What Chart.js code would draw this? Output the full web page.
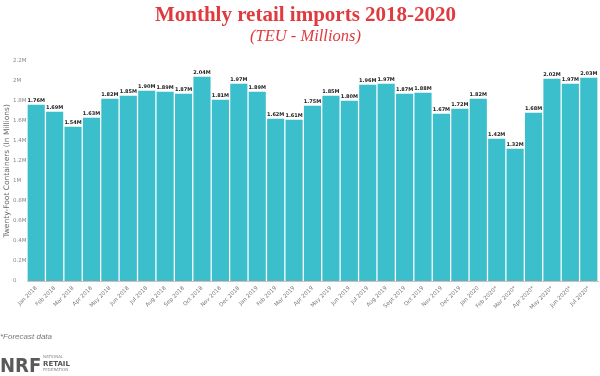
<!DOCTYPE html>
<html>
<head>
<meta charset="utf-8">
<script src="https://cdn.jsdelivr.net/npm/chart.js@4/dist/chart.umd.min.js"></script>
<style>
    html, body { margin: 0; padding: 0; background: #fff; }
    #wrap { position: relative; width: 600px; height: 376px; }
</style>
</head>
<body>
<div id="wrap"><canvas id="chart" width="600" height="376"></canvas></div>
<script>
const months = [
    "Jan 2018", "Feb 2018", "Mar 2018", "Apr 2018", "May 2018", "Jun 2018",
    "Jul 2018", "Aug 2018", "Sep 2018", "Oct 2018", "Nov 2018", "Dec 2018",
    "Jan 2019", "Feb 2019", "Mar 2019", "Apr 2019", "May 2019", "Jun 2019",
    "Jul 2019", "Aug 2019", "Sept 2019", "Oct 2019", "Nov 2019", "Dec 2019",
    "Jan 2020", "Feb 2020*", "Mar 2020*", "Apr 2020*", "May 2020*", "Jun 2020*",
    "Jul 2020*"
];
const imports = [
    1.76, 1.69, 1.54, 1.63, 1.82, 1.85,
    1.90, 1.89, 1.87, 2.04, 1.81, 1.97,
    1.89, 1.62, 1.61, 1.75, 1.85, 1.80,
    1.96, 1.97, 1.87, 1.88, 1.67, 1.72,
    1.82, 1.42, 1.32, 1.68, 2.02, 1.97,
    2.03
];
const valueLabels = imports.map(v => v.toFixed(2) + "M");
const yTicks = [0, 0.2, 0.4, 0.6, 0.8, 1, 1.2, 1.4, 1.6, 1.8, 2, 2.2];
const yTitle = "Twenty-Foot Containers (In Millions)";

const barColor = "#3cbfcc";
const red = "#e03a3e";

// value labels above each bar
const barLabels = {
    id: "barLabels",
    afterDatasetsDraw(chart) {
        const ctx = chart.ctx;
        const meta = chart.getDatasetMeta(0);
        ctx.save();
        ctx.font = "bold 5px 'DejaVu Sans'";
        ctx.fillStyle = "#222";
        ctx.textAlign = "center";
        ctx.textBaseline = "bottom";
        meta.data.forEach((bar, i) => {
            ctx.fillText(valueLabels[i], bar.x, bar.y - 2);
        });
        ctx.restore();
    }
};

// y title, footnote and NRF logo
const extras = {
    id: "extras",
    afterDraw(chart) {
        const ctx = chart.ctx;
        const area = chart.chartArea;
        ctx.save();
        ctx.translate(7, (area.top + area.bottom) / 2);
        ctx.rotate(-Math.PI / 2);
        ctx.fillStyle = "#666";
        ctx.font = "7.5px 'DejaVu Sans'";
        ctx.textAlign = "center";
        ctx.textBaseline = "middle";
        ctx.fillText(yTitle, 0, 0);
        ctx.restore();

        ctx.save();
        ctx.fillStyle = "#777";
        ctx.font = "italic 8px 'Liberation Sans'";
        ctx.textBaseline = "middle";
        ctx.textAlign = "left";
        ctx.fillText("*Forecast data", 0, 337);

        ctx.fillStyle = "#5a5a5a";
        ctx.font = "900 20px 'DejaVu Sans Condensed', 'DejaVu Sans'";
        ctx.textBaseline = "alphabetic";
        ctx.fillText("NRF", 0, 372);
        ctx.fillStyle = "#888";
        ctx.font = "4px 'DejaVu Sans'";
        ctx.fillText("NATIONAL", 43, 358);
        ctx.fillStyle = "#555";
        ctx.font = "bold 7px 'DejaVu Sans'";
        ctx.fillText("RETAIL", 43, 366);
        ctx.fillStyle = "#888";
        ctx.font = "4px 'DejaVu Sans'";
        ctx.fillText("FEDERATION", 43, 371);
        ctx.restore();
    }
};

new Chart(document.getElementById("chart"), {
    type: "bar",
    data: {
        labels: months,
        datasets: [{
            data: imports,
            backgroundColor: barColor,
            barPercentage: 0.93,
            categoryPercentage: 1
        }]
    },
    options: {
        responsive: false,
        animation: false,
        layout: { padding: { left: 13, right: 2, top: 0, bottom: 64 } },
        plugins: {
            legend: { display: false },
            tooltip: { enabled: false },
            title: {
                display: true,
                text: "Monthly retail imports 2018-2020",
                color: red,
                font: { family: "'Liberation Serif'", size: 21, weight: "bold", lineHeight: 1.2 },
                padding: { top: 3, bottom: 0 }
            },
            subtitle: {
                display: true,
                text: "(TEU - Millions)",
                color: red,
                font: { family: "'Liberation Serif'", size: 16.5, style: "italic", lineHeight: 1.0 },
                padding: { top: 0, bottom: 16 }
            }
        },
        scales: {
            x: {
                grid: { display: false, drawTicks: false },
                border: { color: "#e8b4b4", width: 1 },
                ticks: {
                    color: "#777",
                    font: { family: "'DejaVu Sans'", size: 5.5 },
                    minRotation: 45,
                    maxRotation: 45,
                    autoSkip: false,
                    padding: 4
                },
                afterFit(scale) { scale.height = 31; }
            },
            y: {
                min: 0,
                max: 2.2,
                grid: { display: false, drawTicks: false },
                border: { display: false },
                afterBuildTicks(scale) { scale.ticks = yTicks.map(v => ({ value: v })); },
                ticks: {
                    color: "#888",
                    font: { family: "'DejaVu Sans'", size: 5.5 },
                    crossAlign: "far",
                    padding: 1,
                    callback: v => v === 0 ? "0" : (Math.round(v * 10) / 10) + "M"
                },
                afterFit(scale) { scale.width = 14; }
            }
        }
    },
    plugins: [barLabels, extras]
});
</script>
</body>
</html>
